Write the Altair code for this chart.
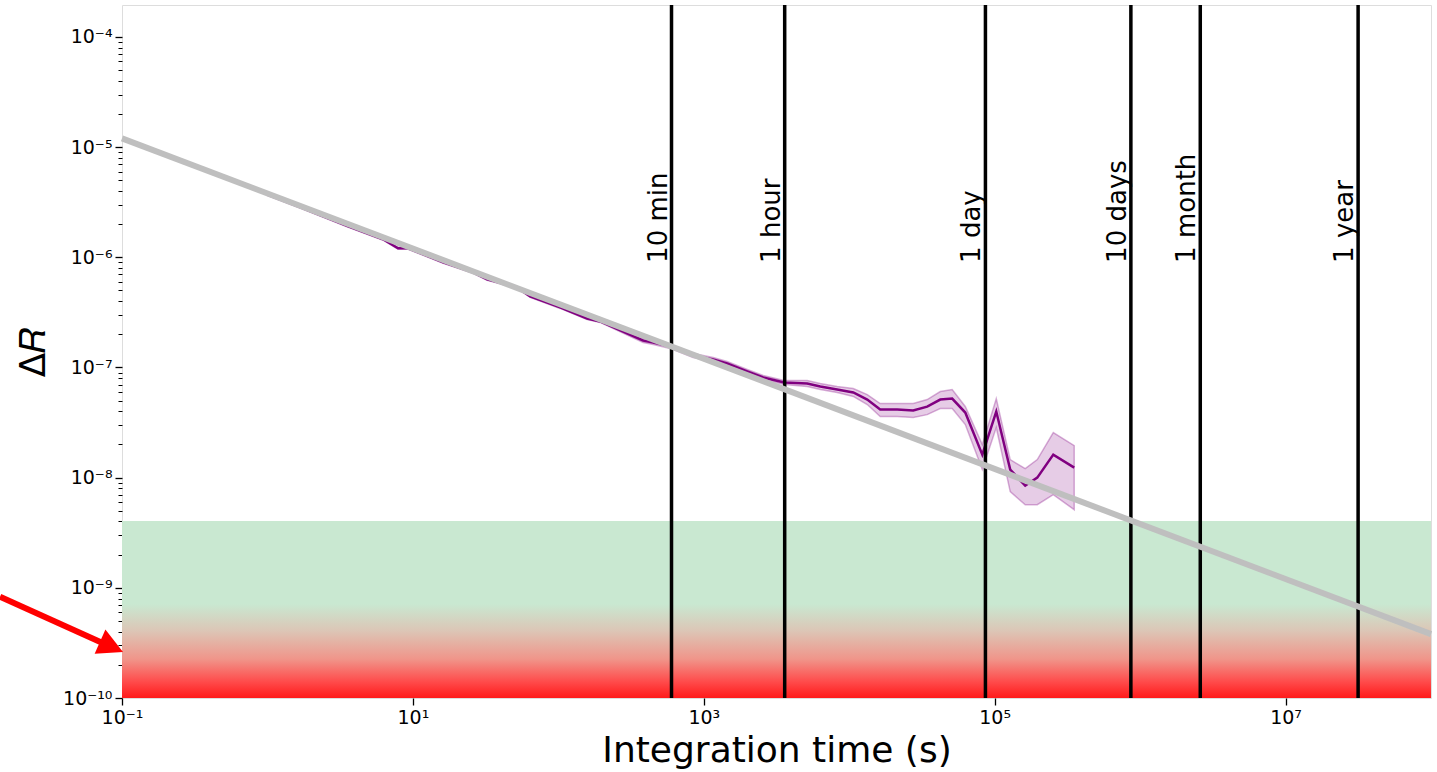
import altair as alt
import pandas as pd

log_t = [0.000, 0.224, 0.547, 0.795, 0.898, 0.967, 1.208, 1.414, 1.510, 1.717,
         1.806, 2.012, 2.198, 2.287, 2.583, 2.652, 2.769, 2.927, 3.065, 3.161,
         3.299, 3.409, 3.553, 3.711, 3.801, 3.917, 4.028, 4.124, 4.213, 4.330,
         4.440, 4.536, 4.626, 4.708, 4.798, 4.915, 5.011, 5.107, 5.210, 5.293,
         5.403, 5.547]
log_r = [-5.430, -5.545, -5.715, -5.836, -5.918, -5.918, -6.045, -6.136, -6.200, -6.273,
         -6.355, -6.455, -6.555, -6.582, -6.755, -6.773, -6.809, -6.891, -6.927, -6.964,
         -7.036, -7.091, -7.136, -7.145, -7.173, -7.200, -7.227, -7.291, -7.382, -7.382,
         -7.391, -7.355, -7.291, -7.282, -7.409, -7.791, -7.400, -7.927, -8.073, -8.000,
         -7.791, -7.909]
err_up = [0.009] * 14 + [0.018] * 9 + [0.027] * 3 + [0.036, 0.045, 0.055, 0.055, 0.064,
          0.064, 0.073, 0.082, 0.055, 0.091, 0.118, 0.091, 0.155, 0.164, 0.200, 0.200]
err_dn = [0.009] * 14 + [0.018] * 9 + [0.027] * 3 + [0.036, 0.045, 0.064, 0.064, 0.064,
          0.073, 0.082, 0.091, 0.109, 0.136, 0.145, 0.200, 0.173, 0.245, 0.364, 0.382]

# ---- grey reference line (end points) ----
fit_t = [1e-1, 1e8]
fit_r = [1.2e-5, 3.8e-10]

# ---- time markers ----
mark_t = [600, 3600, 86400, 864000, 2592000, 31536000]
mark_labels = ["10 min", "1 hour", "1 day", "10 days", "1 month", "1 year"]
mark_label_r = 8.9e-7

# ---- target band ----
band_r = [1e-10, 4.05e-9]
band_t = [1e-1, 1e8]

# ---- arrow annotation ----
arrow_t = [0.0145, 0.0817]
arrow_r = [8.3e-10, 2.96e-10]
arrow_tip_t = [0.1016]
arrow_tip_r = [2.62e-10]

# ---- axes ----
x_domain = [1e-1, 1e8]
y_domain = [1e-10, 1.95e-4]
x_ticks = [1e-1, 1e1, 1e3, 1e5, 1e7]
x_tick_labels = ["10⁻¹", "10¹", "10³", "10⁵", "10⁷"]
y_ticks = [1e-10, 1e-9, 1e-8, 1e-7, 1e-6, 1e-5, 1e-4]
y_tick_labels = ["10⁻¹⁰", "10⁻⁹", "10⁻⁸", "10⁻⁷", "10⁻⁶", "10⁻⁵", "10⁻⁴"]
y_minor = [m * 10.0 ** e for e in range(-10, -4) for m in range(2, 10)]

FONT = "DejaVu Sans"


def label_expr(vals, labels):
    parts = []
    for v, l in zip(vals, labels):
        parts.append(f"abs(datum.value/{v!r} - 1) < 1e-6 ? '{l}'")
    return " : ".join(parts) + " : ''"


major_test = "abs(log(datum.value)/LN10 - round(log(datum.value)/LN10)) < 1e-6"

series = pd.DataFrame({
    "t": [10 ** v for v in log_t],
    "r": [10 ** v for v in log_r],
    "lo": [10 ** (v - d) for v, d in zip(log_r, err_dn)],
    "hi": [10 ** (v + u) for v, u in zip(log_r, err_up)],
})
fit_df = pd.DataFrame({"t": fit_t, "r": fit_r})
marks_df = pd.DataFrame({"t": mark_t, "label": mark_labels})
band_df = pd.DataFrame({"t": [band_t[0]], "t2": [band_t[1]], "r": [band_r[0]], "r2": [band_r[1]]})
arrow_df = pd.DataFrame({"t": [arrow_t[0]], "t2": [arrow_t[1]], "r": [arrow_r[0]], "r2": [arrow_r[1]]})
tip_df = pd.DataFrame({"t": arrow_tip_t, "r": arrow_tip_r})

xscale = alt.Scale(type="log", domain=x_domain, nice=False)
yscale = alt.Scale(type="log", domain=y_domain, nice=False)

x_axis = alt.Axis(
    values=x_ticks, labelExpr=label_expr(x_ticks, x_tick_labels),
    title="Integration time (s)", tickSize=7, tickWidth=1.3, tickColor="black",
    labelFontSize=19, labelFont=FONT, labelColor="black", labelPadding=3,
    titleFont=FONT, titleFontSize=36, titleFontWeight="normal", titleColor="black",
    titlePadding=6, domain=False, grid=False, labelFlush=False, labelOverlap=False,
)
y_axis = alt.Axis(
    values=y_ticks + y_minor, labelExpr=label_expr(y_ticks, y_tick_labels),
    title="Δ𝑅",
    tickSize={"condition": {"test": major_test, "value": 7}, "value": 4},
    tickWidth={"condition": {"test": major_test, "value": 1.3}, "value": 1.0},
    tickColor="black",
    labelFontSize=19, labelFont=FONT, labelColor="black", labelPadding=3,
    titleFont=FONT, titleFontSize=36, titleFontWeight="normal", titleColor="black",
    titlePadding=10, domain=False, grid=False, labelFlush=False, labelOverlap=False,
)

gradient = alt.LinearGradient(
    gradient="linear", x1=0, x2=0, y1=0, y2=1,
    stops=[
        alt.GradientStop(offset=0.0, color="#c9e8d1"),
        alt.GradientStop(offset=0.47, color="#c9e8d1"),
        alt.GradientStop(offset=0.62, color="#dcc6b6"),
        alt.GradientStop(offset=0.78, color="#f0958a"),
        alt.GradientStop(offset=0.91, color="#ff4a4a"),
        alt.GradientStop(offset=1.0, color="#ff1a1a"),
    ],
)

band = alt.Chart(band_df).mark_rect(fill=gradient, strokeWidth=0).encode(
    x=alt.X("t:Q", scale=xscale, axis=x_axis),
    x2="t2:Q",
    y=alt.Y("r:Q", scale=yscale, axis=y_axis),
    y2="r2:Q",
)

area = alt.Chart(series).mark_area(
    color="purple", fillOpacity=0.2, stroke="purple", strokeOpacity=0.3, strokeWidth=1.5
).encode(x=alt.X("t:Q", scale=xscale), y=alt.Y("lo:Q", scale=yscale), y2="hi:Q")

line = alt.Chart(series).mark_line(color="purple", strokeWidth=2.5).encode(
    x=alt.X("t:Q", scale=xscale), y=alt.Y("r:Q", scale=yscale)
)

vlines = alt.Chart(marks_df).mark_rule(color="black", strokeWidth=3.5).encode(
    x=alt.X("t:Q", scale=xscale)
)

vlabels = alt.Chart(marks_df).mark_text(
    angle=270, align="left", baseline="bottom", font=FONT, fontSize=26, color="black"
).encode(
    x=alt.X("t:Q", scale=xscale),
    y=alt.datum(mark_label_r, scale=yscale),
    text="label:N",
)

fit = alt.Chart(fit_df).mark_line(color="#bfbfbf", strokeWidth=6).encode(
    x=alt.X("t:Q", scale=xscale), y=alt.Y("r:Q", scale=yscale)
)

shaft = alt.Chart(arrow_df).mark_rule(color="red", strokeWidth=6, strokeCap="butt").encode(
    x=alt.X("t:Q", scale=xscale), x2="t2:Q",
    y=alt.Y("r:Q", scale=yscale), y2="r2:Q",
)

head = alt.Chart(tip_df).mark_point(
    shape="M 0 0 L -1.9 -1 L -1.9 1 Z", size=700, filled=True, color="red",
    opacity=1, angle=24, strokeWidth=0
).encode(x=alt.X("t:Q", scale=xscale), y=alt.Y("r:Q", scale=yscale))

chart = alt.layer(band, area, line, vlines, fit, vlabels, shaft, head).properties(
    width=1309, height=693,
    padding={"left": 122, "top": 5, "right": 6, "bottom": 74},
    autosize=alt.AutoSizeParams(type="none"),
).configure_view(stroke="black", strokeWidth=1.3).configure(background="white")

chart.save("out.html", embed_options={"renderer": "svg", "actions": False})
